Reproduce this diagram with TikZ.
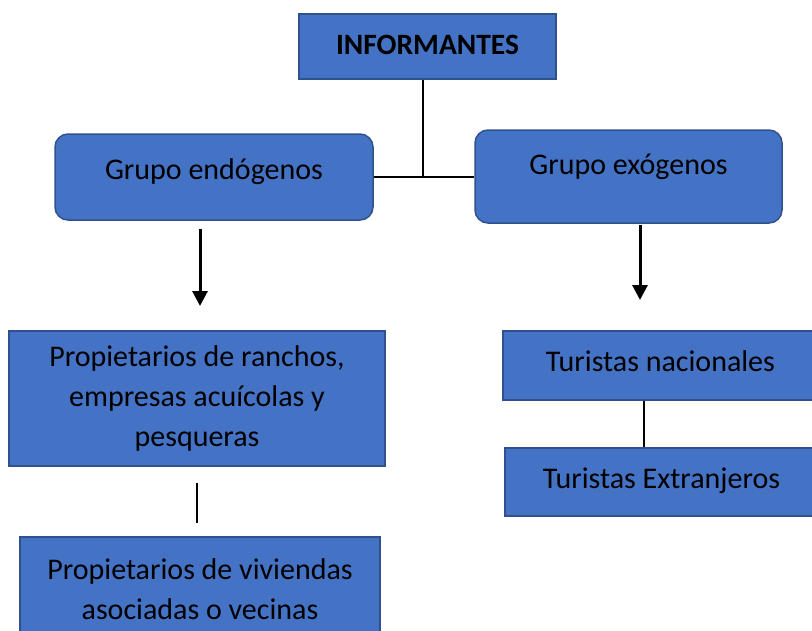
\documentclass[tikz,border=0pt]{standalone}
\usepackage{fontspec}
\setmainfont{Carlito}
\usetikzlibrary{arrows.meta, positioning, calc}
\definecolor{boxblue}{RGB}{68,114,196}
\definecolor{boxedge}{RGB}{47,82,143}

\begin{document}
\begin{tikzpicture}[x=1pt,y=-1pt,
	box/.style={rectangle,draw=boxedge,fill=boxblue,line width=1.5pt,inner sep=0pt,
		font=\fontsize{30}{40}\selectfont,align=center},
	group node/.style={box,rounded corners=13pt},
	link/.style={line width=1.5pt},
	down arrow/.style={line width=3pt,-{Triangle[length=15pt,width=15pt]}}]
	
	\clip (0,0) rectangle (812,630);
	
	\node[box,minimum width=257pt,minimum height=65pt,text height=20pt,text depth=5pt,
		font=\fontsize{29.5}{34}\selectfont\bfseries] (inf) at (427.5,46.5) {INFORMANTES};
	\node[group node,minimum width=318pt,minimum height=86pt,text height=20pt,text depth=16pt] (endo) at (214,177) {Grupo endógenos};
	\node[group node,minimum width=307pt,minimum height=93pt,text height=20pt,text depth=24pt] (exo) at (628.5,176.5) {Grupo exógenos};
	\node[box,minimum width=376pt,minimum height=135pt] (ranch) at (197,398.5) {Propietarios de ranchos,\\empresas acuícolas y\\pesqueras};
	\node[box,minimum width=360pt,minimum height=104pt] (viv) at (200,589) {Propietarios de viviendas\\asociadas o vecinas};
	\node[box,minimum width=315pt,minimum height=69pt,text height=20pt,text depth=8pt] (nac) at (660.5,365.5) {Turistas nacionales};
	\node[box,minimum width=313pt,minimum height=68pt,text height=20pt,text depth=8pt] (ext) at (661.5,482) {Turistas Extranjeros};
	
	% join of the two groups
	\coordinate (j) at (423,177);
	\draw[link] (inf.south -| j) -- (j);
	\draw[link] (endo.east |- j) -- (exo.west |- j);
	
	\coordinate (endo out) at (200,229);
	\coordinate (ranch in) at (200,306);
	\coordinate (exo out) at (640,225);
	\coordinate (nac in) at (640,300);
	\draw[down arrow] (endo out) -- (ranch in);
	\draw[down arrow] (exo out) -- (nac in);
	
	\coordinate (ranch low) at (197,483);
	\coordinate (viv top) at (197,523);
	\draw[link] (ranch low) -- (viv top);
	
	\coordinate (k) at (644,0);
	\draw[link] (nac.south -| k) -- (ext.north -| k);
\end{tikzpicture}
\end{document}
